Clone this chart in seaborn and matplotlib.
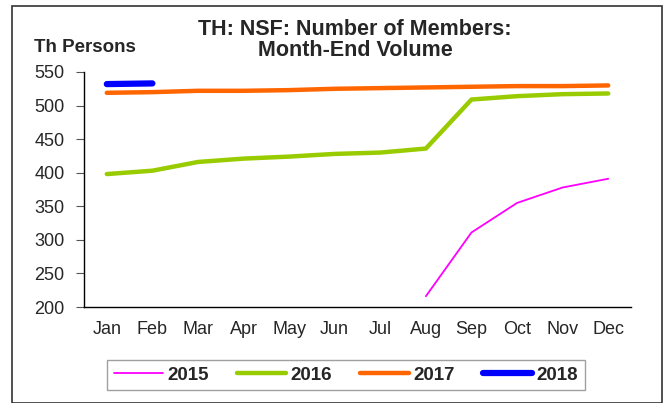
import numpy as np
import pandas as pd
import matplotlib
matplotlib.use("Agg")
import matplotlib.pyplot as plt
import seaborn as sns
from matplotlib.patches import Rectangle

# chart data
months = ["Jan", "Feb", "Mar", "Apr", "May", "Jun", "Jul", "Aug", "Sep", "Oct", "Nov", "Dec"]
y2015 = [None, None, None, None, None, None, None, 216, 311, 355, 378, 391]
y2016 = [398, 403, 416, 421, 424, 428, 430, 436, 509, 514, 517, 518]
y2017 = [519, 520, 522, 522, 523, 525, 526, 527, 528, 529, 529, 530]
y2018 = [532, 533, None, None, None, None, None, None, None, None, None, None]
years = ["2015", "2016", "2017", "2018"]
colors = ["#ff00ff", "#99cc00", "#ff6600", "#0000ff"]
widths = [1.3, 3.2, 3.2, 4.5]
yticks = [200, 250, 300, 350, 400, 450, 500, 550]

# long-form table for seaborn
rows = []
for yr, vals in zip(years, [y2015, y2016, y2017, y2018]):
    for i, v in enumerate(vals):
        if v is not None:
            rows.append({"x": i, "value": v, "year": yr})
df = pd.DataFrame(rows)

sns.set_style("white")
plt.rcParams['font.family'] = ['Liberation Sans', 'DejaVu Sans']

fig = plt.figure(figsize=(6.65, 4.03), dpi=100)
ax = fig.add_axes([84 / 665, 1 - 307 / 403, (631 - 84) / 665, (307 - 72) / 403])

for yr, c, w in zip(years, colors, widths):
    sub = df[df["year"] == yr]
    sns.lineplot(data=sub, x="x", y="value", color=c, linewidth=w, ax=ax,
                 label=yr, solid_capstyle="round")

ax.set_xlim(-0.5, 11.5)
ax.set_ylim(200, 550)
ax.set_yticks(yticks)
ax.set_xticks(range(12))
ax.set_xticklabels(months, fontsize=13)
ax.set_xticks(np.arange(-0.5, 12, 1), minor=True)
ax.tick_params(axis="x", which="major", length=0, pad=10)
ax.tick_params(axis="x", which="minor", length=5, direction="in", color="#555555")
ax.tick_params(axis="y", length=6, direction="out", labelsize=13, left=True,
               color="#555555", pad=8)
ax.set_xlabel("")
ax.set_ylabel("")
ax.spines["top"].set_visible(False)
ax.spines["right"].set_visible(False)
ax.spines["left"].set_color("black")
ax.spines["bottom"].set_color("black")
ax.spines["left"].set_linewidth(1)
ax.spines["bottom"].set_linewidth(1)

fig.text(355 / 665, 1 - 40 / 403, "TH: NSF: Number of Members:\nMonth-End Volume",
         ha="center", va="center", fontsize=15.5, fontweight="bold", linespacing=1.0)
fig.text(34 / 665, 1 - 48 / 403, "Th Persons", ha="left", va="center",
         fontsize=13.5, fontweight="bold")

ax.get_legend().remove()
handles, labels = ax.get_legend_handles_labels()
leg = fig.legend(handles, labels, loc="center", bbox_to_anchor=(346 / 665, 1 - 375 / 403),
                 ncol=4, frameon=True, fancybox=False, handlelength=2.6,
                 columnspacing=1.5, prop={"weight": "bold", "size": 13.5},
                 borderpad=0.35, handletextpad=0.25, borderaxespad=0)
leg.get_frame().set_edgecolor("#888888")
leg.get_frame().set_linewidth(1)

# outer frame
fig.patches.append(Rectangle((12 / 665, 0.0), (662 - 12) / 665, 1 - 6 / 403,
                             transform=fig.transFigure, fill=False,
                             edgecolor="#333333", linewidth=1.2))

fig.savefig("out.png", dpi=100)
